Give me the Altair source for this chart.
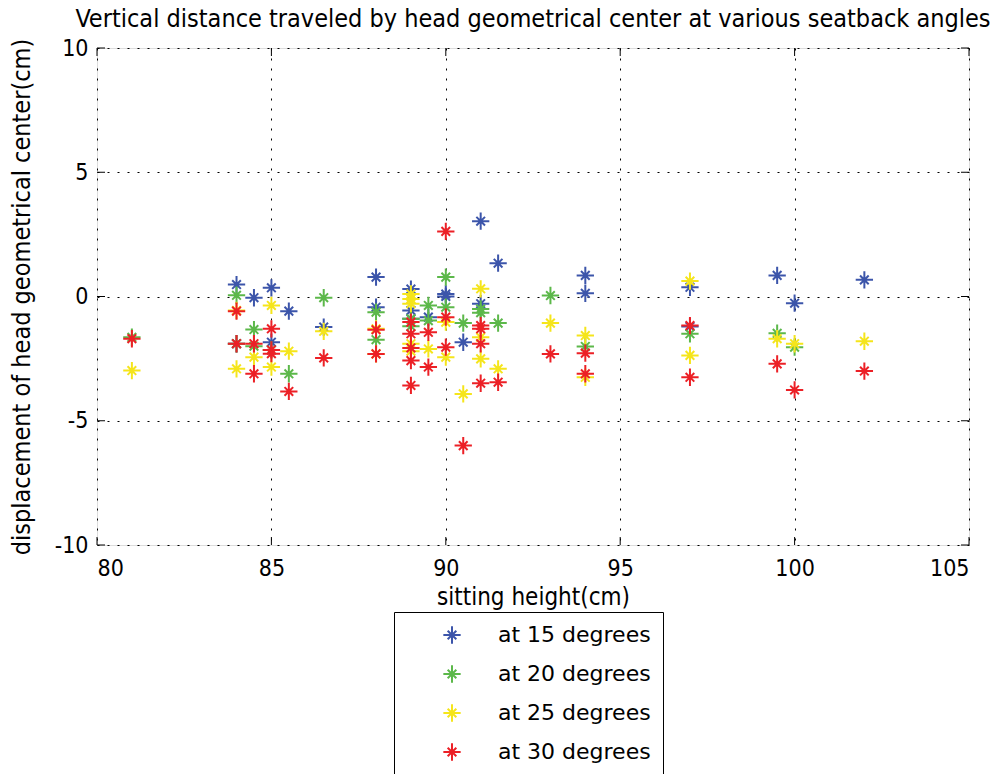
import altair as alt
import pandas as pd

series = ["at 15 degrees", "at 20 degrees", "at 25 degrees", "at 30 degrees"]
colors = ["#3C55AA", "#5CB84A", "#F5E51B", "#EC2026"]

x15 = [84, 84, 84.5, 85, 85, 85.5, 86.5, 88, 88, 89, 89, 89, 89.5, 90, 90, 90.5, 91, 91, 91.5, 94, 94, 97, 97, 99.5, 100, 102]
y15 = [0.48, -1.9, -0.05, 0.35, -1.84, -0.59, -1.23, 0.78, -0.43, 0.3, -0.56, -0.9, -0.83, 0.1, 0.0, -1.84, 3.03, -0.29, 1.34, 0.85, 0.13, 0.37, -1.21, 0.85, -0.27, 0.67]

x20 = [81, 84, 84, 84.5, 84.5, 85, 85.5, 86.5, 88, 88, 89, 89, 89.5, 89.5, 90, 90, 90.5, 91, 91, 91.5, 93, 94, 97, 99.5, 100]
y20 = [-1.64, 0.05, -1.9, -1.33, -2.0, -2.15, -3.11, -0.05, -0.63, -1.74, -0.9, -1.2, -0.36, -0.97, 0.78, -0.43, -1.07, -0.5, -0.65, -1.07, 0.04, -2.01, -1.5, -1.48, -2.04]

x25 = [81, 84, 84, 84.5, 85, 85, 85.5, 86.5, 88, 88, 89, 89, 89, 89, 89, 89.5, 90, 90, 90.5, 91, 91, 91, 91.5, 93, 94, 94, 97, 97, 99.5, 100, 102]
y25 = [-2.98, -0.56, -2.91, -2.44, -0.36, -2.84, -2.2, -1.4, -1.3, -2.31, 0.1, -0.1, -0.29, -1.9, -2.2, -2.11, -1.03, -2.44, -3.92, 0.31, -1.64, -2.51, -2.91, -1.07, -1.57, -3.25, 0.62, -2.37, -1.7, -1.9, -1.8]

x30 = [81, 84, 84, 84.5, 84.5, 85, 85, 85, 85.5, 86.5, 88, 88, 89, 89, 89, 89, 89, 89.5, 89.5, 90, 90, 90, 90.5, 91, 91, 91, 91, 91.5, 93, 94, 94, 97, 97, 99.5, 100, 102]
y30 = [-1.7, -0.59, -1.9, -1.9, -3.11, -1.3, -2.15, -2.3, -3.82, -2.47, -1.34, -2.31, -1.03, -1.5, -2.07, -2.58, -3.58, -1.44, -2.84, 2.62, -0.83, -2.04, -6.0, -1.17, -1.3, -1.9, -3.49, -3.45, -2.31, -2.28, -3.11, -1.17, -3.25, -2.71, -3.76, -3.0]

x_ticks = [80, 85, 90, 95, 100, 105]
y_ticks = [-10, -5, 0, 5, 10]

rows = []
for name, xs, ys in zip(series, [x15, x20, x25, x30], [y15, y20, y25, y30]):
    for xv, yv in zip(xs, ys):
        rows.append({"h": xv, "d": yv, "series": name})
df = pd.DataFrame(rows)

W, H = 872, 497
star = "M-1,0L1,0M0,-1L0,1M-0.5,-0.5L0.5,0.5M-0.5,0.5L0.5,-0.5"
FONT = "DejaVu Sans Condensed, DejaVu Sans"
xscale = alt.Scale(domain=[80, 105], nice=False, zero=False)
yscale = alt.Scale(domain=[-10, 10], nice=False, zero=False)
fix_minus = "replace(datum.label, '\u2212', '-')"

points = alt.Chart(df).mark_point(
    shape=star, filled=False, size=300, strokeWidth=2, opacity=1
).encode(
    x=alt.X("h:Q", scale=xscale,
            axis=alt.Axis(values=x_ticks, title="sitting height(cm)", grid=True,
                          gridColor="black", gridDash=[2, 8], gridOpacity=1,
                          domain=False, ticks=False, labelFontSize=23, labelPadding=12,
                          labelColor="black", labelFont=FONT, titleFont=FONT,
                          titleFontSize=24, titleFontWeight="normal", titleColor="black",
                          titlePadding=5, labelExpr=fix_minus)),
    y=alt.Y("d:Q", scale=yscale,
            axis=alt.Axis(values=y_ticks, title="displacement of head geometrical center(cm)",
                          grid=True, gridColor="black", gridDash=[2, 8], gridOpacity=1,
                          domain=False, ticks=False, labelFontSize=23, labelPadding=9,
                          labelColor="black", labelFont=FONT, titleFont=FONT,
                          titleFontSize=25, titleFontWeight="normal", titleColor="black",
                          titlePadding=20, labelExpr=fix_minus)),
    color=alt.Color("series:N", scale=alt.Scale(domain=series, range=colors),
                    sort=series,
                    legend=alt.Legend(title=None, orient="none", legendX=297, legendY=564,
                                      strokeColor="black", fillColor="white", padding=12,
                                      symbolType=star, symbolSize=300, symbolStrokeWidth=2,
                                      symbolOffset=35, labelOffset=35, rowPadding=13,
                                      labelFontSize=22, labelFont="DejaVu Sans",
                                      labelColor="black", cornerRadius=0)),
    order=alt.Order("ord:Q"),
).transform_calculate(
    ord="indexof(['at 15 degrees','at 20 degrees','at 25 degrees','at 30 degrees'], datum.series)"
)

tx = pd.DataFrame({"v": x_ticks})
ty = pd.DataFrame({"v": y_ticks})
tick_style = dict(color="black", strokeWidth=1)
bottom_ticks = alt.Chart(tx).mark_rule(**tick_style).encode(
    x=alt.X("v:Q", scale=xscale), y=alt.value(H), y2=alt.value(H - 8))
top_ticks = alt.Chart(tx).mark_rule(**tick_style).encode(
    x=alt.X("v:Q", scale=xscale), y=alt.value(0), y2=alt.value(8))
left_ticks = alt.Chart(ty).mark_rule(**tick_style).encode(
    y=alt.Y("v:Q", scale=yscale), x=alt.value(0), x2=alt.value(8))
right_ticks = alt.Chart(ty).mark_rule(**tick_style).encode(
    y=alt.Y("v:Q", scale=yscale), x=alt.value(W), x2=alt.value(W - 8))

chart = alt.layer(points, bottom_ticks, top_ticks, left_ticks, right_ticks).properties(
    width=W, height=H,
    title=alt.Title("Vertical distance traveled by head geometrical center at various seatback angles",
                    font=FONT, fontSize=25, fontWeight="normal", color="black", offset=5),
    autosize=alt.AutoSizeParams(type="none"),
    padding={"left": 97, "top": 48, "right": 28, "bottom": 229},
).configure_view(stroke="black", strokeWidth=1.5).configure(background="white")

chart.save("out.html", embed_options={"renderer": "svg", "actions": False})
